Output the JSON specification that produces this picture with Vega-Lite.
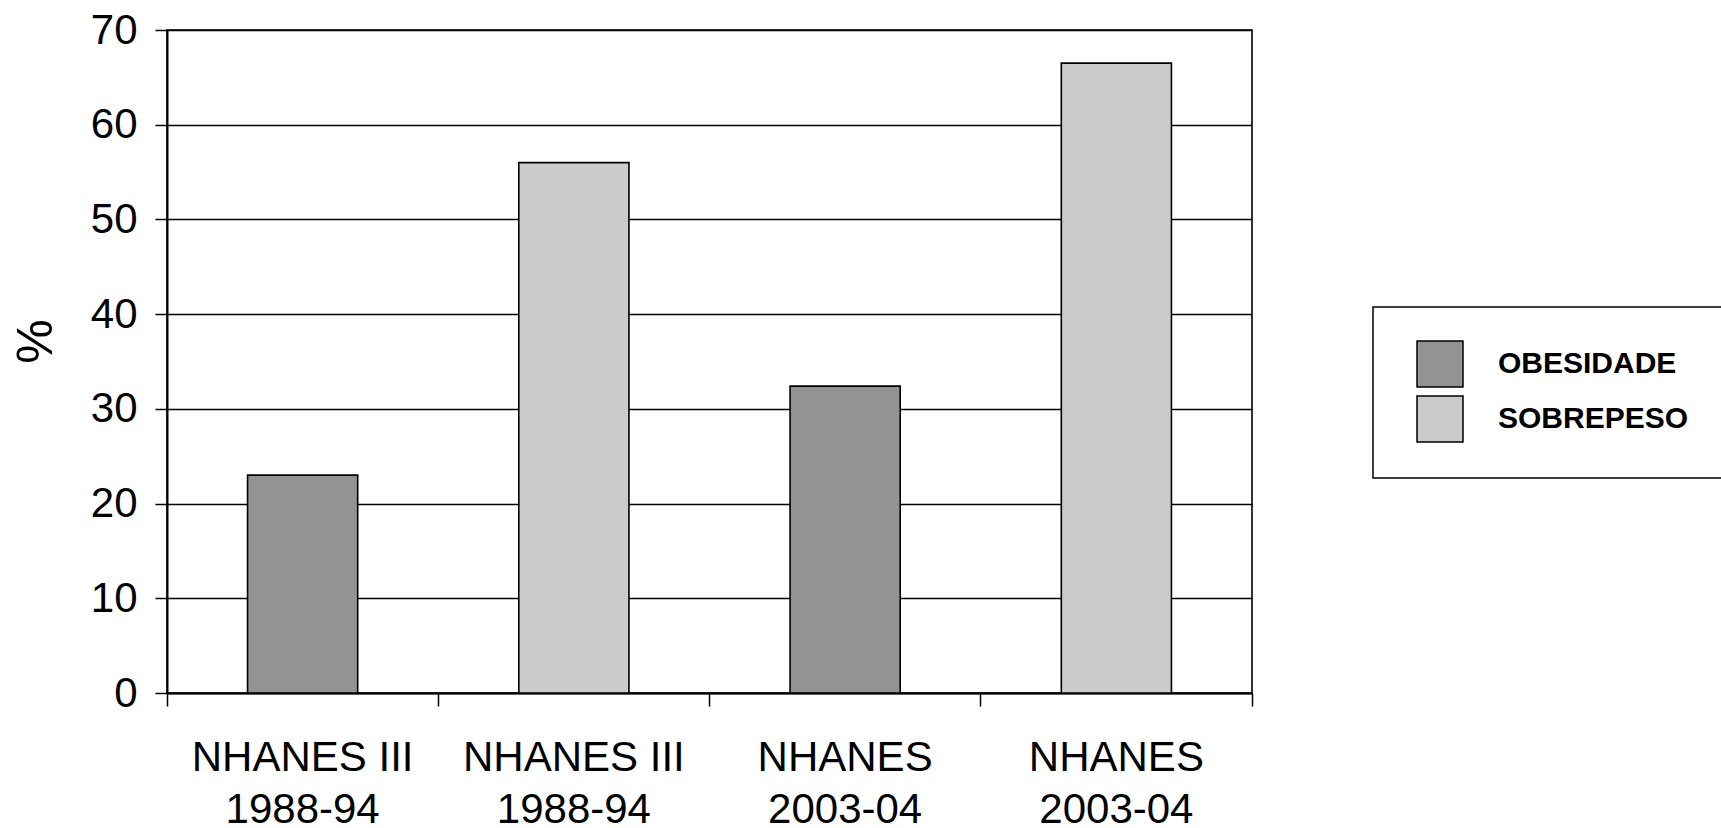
{
  "$schema": "https://vega.github.io/schema/vega-lite/v6.json",
  "width": 1085,
  "height": 663,
  "autosize": {"type": "none"},
  "padding": {"left": 167, "top": 30, "right": 469, "bottom": 135},
  "background": "white",
  "config": {
    "font": "Liberation Sans",
    "view": {"stroke": "black", "strokeWidth": 1.6},
    "legend": {"strokeWidth": 1.5}
  },
  "data": {
    "values": [
      {"barra": "NHANES III|1988-94|OBESIDADE", "tipo": "OBESIDADE", "valor": 23},
      {"barra": "NHANES III|1988-94|SOBREPESO", "tipo": "SOBREPESO", "valor": 56},
      {"barra": "NHANES|2003-04|OBESIDADE", "tipo": "OBESIDADE", "valor": 32.4},
      {"barra": "NHANES|2003-04|SOBREPESO", "tipo": "SOBREPESO", "valor": 66.5}
    ]
  },
  "resolve": {"axis": {"x": "independent"}},
  "layer": [
    {
      "mark": {"type": "bar", "stroke": "black", "strokeWidth": 1.6, "width": {"band": 0.406}},
      "encoding": {
        "x": {
          "field": "barra", "type": "nominal", "sort": null,
          "scale": {"paddingInner": 0, "paddingOuter": 0},
          "axis": {
            "orient": "bottom", "title": null, "ticks": false, "tickSize": 0,
            "domain": true, "domainColor": "black", "domainWidth": 2,
            "labelAngle": 0, "labelAlign": "center", "labelBaseline": "top",
            "labelFont": "Liberation Sans", "labelFontSize": 42, "labelColor": "black",
            "labelLineHeight": 52, "labelPadding": 44, "labelLimit": 400,
            "labelExpr": "slice(split(datum.label, '|'), 0, 2)"
          }
        },
        "y": {
          "field": "valor", "type": "quantitative",
          "scale": {"domain": [0, 70], "nice": false},
          "axis": {
            "values": [0, 10, 20, 30, 40, 50, 60, 70],
            "title": "%", "titleFont": "Liberation Sans", "titleFontSize": 50,
            "titleFontWeight": "normal", "titleColor": "black",
            "titleAngle": -90, "titleAlign": "center", "titleBaseline": "alphabetic",
            "titleX": -116, "titleY": 311,
            "domainColor": "black", "domainWidth": 2,
            "tickColor": "black", "tickSize": 12, "tickWidth": 1.5,
            "labelFont": "Liberation Sans", "labelFontSize": 42, "labelColor": "black",
            "labelPadding": 18,
            "grid": true, "gridColor": "black", "gridWidth": 1.3, "gridOpacity": 1
          }
        },
        "color": {
          "field": "tipo", "type": "nominal",
          "scale": {"domain": ["OBESIDADE", "SOBREPESO"], "range": ["#939393", "#cbcbcb"]},
          "legend": {
            "orient": "none", "legendX": 1206, "legendY": 277,
            "title": null, "symbolType": "square", "symbolSize": 2116,
            "symbolStrokeColor": "black", "symbolStrokeWidth": 1.5, "symbolOpacity": 1,
            "symbolOffset": 10, "labelOffset": 34, "labelLimit": 600,
            "labelFont": "Liberation Sans", "labelFontSize": 30, "labelFontWeight": "bold",
            "labelColor": "black", "labelExpr": "datum.label + '\u00a0\u00a0\u00a0\u00a0\u00a0\u00a0\u00a0\u00a0\u00a0\u00a0'",
            "padding": 33, "rowPadding": 3,
            "strokeColor": "black", "fillColor": "white"
          }
        }
      }
    },
    {
      "mark": {"type": "bar", "opacity": 0, "width": {"band": 0.406}},
      "encoding": {
        "x": {
          "field": "barra", "type": "nominal", "sort": null,
          "axis": {
            "orient": "bottom", "title": null, "bandPosition": 0,
            "labels": false, "domain": false, "grid": false,
            "ticks": true, "tickSize": 13, "tickColor": "black", "tickWidth": 1.5
          }
        },
        "y": {"field": "valor", "type": "quantitative"}
      }
    },
    {
      "mark": {"type": "bar", "opacity": 0, "width": {"band": 0.406}},
      "encoding": {
        "x": {
          "field": "barra", "type": "nominal", "sort": null,
          "axis": {
            "orient": "bottom", "title": null, "bandPosition": 1,
            "values": ["NHANES|2003-04|SOBREPESO"],
            "labels": false, "domain": false, "grid": false,
            "ticks": true, "tickSize": 13, "tickColor": "black", "tickWidth": 1.5
          }
        },
        "y": {"field": "valor", "type": "quantitative"}
      }
    }
  ]
}
